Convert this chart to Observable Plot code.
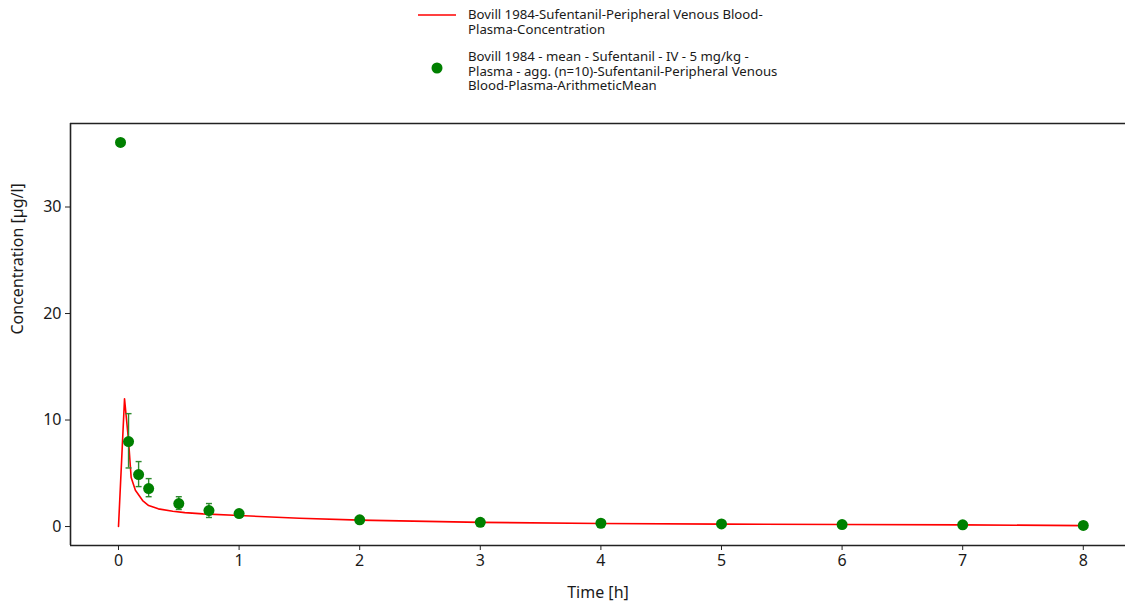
<!DOCTYPE html>
<html>
<head>
<meta charset="utf-8">
<script src="https://cdn.jsdelivr.net/npm/d3@7"></script>
<script src="https://cdn.jsdelivr.net/npm/@observablehq/plot@0.6"></script>
<style>
  body { margin: 0; background: #fff; font-family: "Noto Sans", sans-serif; }
  #legend { position: relative; height: 110px; width: 1125px; font-size: 13.2px; color: #1a1a1a; }
  .txt { position: absolute; left: 468px; }
  .txt div { height: 14.5px; line-height: 14.5px; white-space: nowrap; }
  .sym { position: absolute; }
  #chart svg { display: block; }
</style>
</head>
<body>
<div id="legend">
  <svg class="sym" style="left:418px; top:13px;" width="38" height="4"><line x1="0" x2="38" y1="2" y2="2" stroke="#ff0000" stroke-width="1.5"/></svg>
  <div class="txt" style="top:7px;">
    <div>Bovill 1984-Sufentanil-Peripheral Venous Blood-</div>
    <div>Plasma-Concentration</div>
  </div>
  <svg class="sym" style="left:430px; top:61px;" width="14" height="14"><circle cx="7" cy="7" r="5.5" fill="#008000"/></svg>
  <div class="txt" style="top:49px;">
    <div>Bovill 1984 - mean - Sufentanil - IV - 5 mg/kg -</div>
    <div>Plasma - agg. (n=10)-Sufentanil-Peripheral Venous</div>
    <div>Blood-Plasma-ArithmeticMean</div>
  </div>
</div>
<div id="chart"></div>
<script>
// Simulated concentration (line)
const simTime = [0, 0.05, 0.083, 0.105, 0.14, 0.2, 0.25, 0.33, 0.45, 0.55, 0.7, 1, 1.5, 2, 3, 4, 5, 6, 7, 8];
const simConc = [0, 12.0, 8.1, 4.6, 3.4, 2.44, 1.97, 1.66, 1.44, 1.31, 1.19, 1.03, 0.78, 0.6, 0.39, 0.29, 0.23, 0.19, 0.16, 0.09];

// Observed mean data (points)
const obsTime = [0.0167, 0.0833, 0.1667, 0.25, 0.5, 0.75, 1, 2, 3, 4, 5, 6, 7, 8];
const obsConc = [36.06, 7.98, 4.88, 3.57, 2.16, 1.5, 1.22, 0.63, 0.4, 0.31, 0.25, 0.19, 0.16, 0.1];
const obsLow  = [null, 5.5, 3.75, 2.8, 1.6, 0.85, null, null, null, null, null, null, null, null];
const obsHigh = [null, 10.6, 6.1, 4.5, 2.8, 2.16, null, null, null, null, null, null, null, null];

const xTicks = [0, 1, 2, 3, 4, 5, 6, 7, 8];
const yTicks = [0, 10, 20, 30];

const sim = simTime.map((t, i) => ({t, c: simConc[i]}));
const obs = obsTime.map((t, i) => ({t, c: obsConc[i], lo: obsLow[i], hi: obsHigh[i]}));
const err = obs.filter(d => d.lo != null);

const xDomain = [-0.398, 8.35];
const yDomain = [-1.78, 37.84];

const capSymbol = {
  draw(context, size) {
    const w = Math.sqrt(size / Math.PI);
    context.moveTo(-w, 0);
    context.lineTo(w, 0);
  }
};

const chart = Plot.plot({
  width: 1125,
  height: 496,
  marginTop: 13,
  marginBottom: 61,
  marginLeft: 70,
  marginRight: 0,
  style: {fontFamily: "Noto Sans", fontSize: "16px", color: "#1a1a1a", background: "#fff"},
  x: {domain: xDomain, ticks: xTicks, label: null},
  y: {domain: yDomain, ticks: yTicks, label: null},
  marks: [
    Plot.ruleY([yDomain[1]], {stroke: "#222", strokeWidth: 1.3}),
    Plot.ruleY([yDomain[0]], {stroke: "#222", strokeWidth: 1.6}),
    Plot.ruleX([xDomain[0]], {stroke: "#222", strokeWidth: 1.6}),
    Plot.axisX({ticks: xTicks, tickSize: 5, tickPadding: 4, fontSize: 16, label: null, stroke: "#222"}),
    Plot.axisY({ticks: yTicks, tickSize: 5, tickPadding: 4, fontSize: 16, label: null, stroke: "#222"}),
    Plot.text(["Time [h]"], {frameAnchor: "bottom", dy: 52, fontSize: 16, fill: "#1a1a1a"}),
    Plot.text(["Concentration [µg/l]"], {frameAnchor: "left", dx: -53, rotate: -90, fontSize: 16, fill: "#1a1a1a"}),
    Plot.line(sim, {x: "t", y: "c", stroke: "#ff0000", strokeWidth: 1.6}),
    Plot.ruleX(err, {x: "t", y1: "lo", y2: "hi", stroke: "#2e8b2e", strokeWidth: 1.4}),
    Plot.dot(err, {x: "t", y: "lo", symbol: capSymbol, r: 3, stroke: "#2e8b2e", strokeWidth: 1.4}),
    Plot.dot(err, {x: "t", y: "hi", symbol: capSymbol, r: 3, stroke: "#2e8b2e", strokeWidth: 1.4}),
    Plot.dot(obs, {x: "t", y: "c", r: 5.5, fill: "#008000", stroke: "none"})
  ]
});
document.getElementById("chart").appendChild(chart);
</script>
</body>
</html>
